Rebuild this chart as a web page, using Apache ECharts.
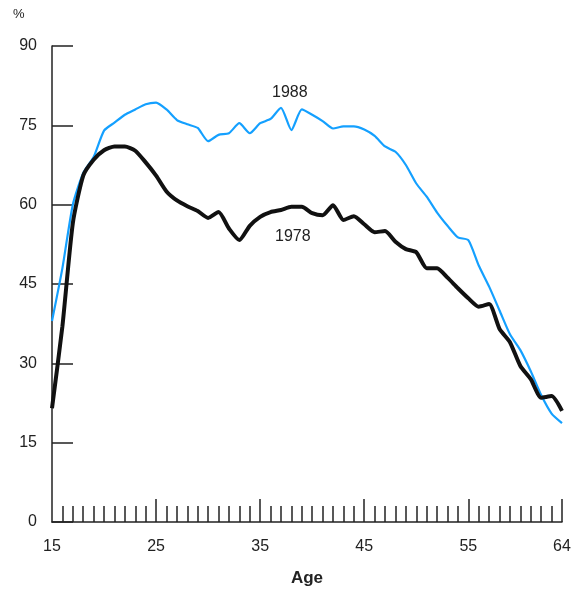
<!DOCTYPE html>
<html>
<head>
<meta charset="utf-8">
<script src="https://cdn.jsdelivr.net/npm/echarts@6/dist/echarts.min.js"></script>
<style>
  html, body { margin: 0; padding: 0; background: #fff; }
  #chart { width: 576px; height: 597px; }
</style>
</head>
<body>
<div id="chart"></div>
<script>
// Ages on the horizontal axis, one point per year
const ages = [];
for (let a = 15; a <= 64; a++) ages.push(String(a));

// Participation rate (%) by single year of age
const rate1988 = [
  38, 48, 60, 66, 69, 74, 75.5, 77, 78, 79,
  79.3, 78, 76, 75.2, 74.5, 72, 73.2, 73.5, 75.4, 73.5,
  75.4, 76.2, 78.3, 74.1, 78, 77, 75.8, 74.4, 74.8, 74.8,
  74.2, 73, 71, 70, 67.5, 64, 61.5, 58.5, 56, 53.8,
  53.3, 48.5, 44.5, 40, 35.5, 32.5, 28.5, 24, 20.5, 18.7
];
const rate1978 = [
  21.5, 37, 56.5, 65.5, 68.5, 70.3, 71, 71, 70.2, 68,
  65.5, 62.5, 60.8, 59.7, 58.8, 57.5, 58.6, 55.5, 53.3, 56,
  57.7, 58.6, 59, 59.6, 59.6, 58.4, 58, 59.9, 57.1, 57.8,
  56.3, 54.8, 55, 53, 51.6, 51, 48, 48, 46.2, 44.2,
  42.3, 40.7, 41.2, 36.5, 34, 29.5, 27, 23.5, 23.8, 21
];

// Labelled ages and ages with long tick marks
const labelledAges = ['15', '25', '35', '45', '55', '64'];
const longTickAges = ['25', '35', '45', '55', '64'];

const font = 'Liberation Sans, Arial, Helvetica, sans-serif';
const ink = '#222';

const chart = echarts.init(document.getElementById('chart'));
chart.setOption({
  animation: false,
  grid: { left: 52, right: 14, top: 46, bottom: 75 },
  xAxis: [
    {
      type: 'category',
      data: ages,
      boundaryGap: false,
      axisLine: { lineStyle: { color: ink, width: 1.5 } },
      axisTick: {
        inside: true, length: 16,
        lineStyle: { color: ink, width: 1.5 },
        interval: (i, v) => v !== '15'
      },
      axisLabel: {
        color: ink, fontFamily: font, fontSize: 16, margin: 17,
        interval: (i, v) => labelledAges.includes(v)
      },
      name: 'Age',
      nameLocation: 'middle',
      nameGap: 48,
      nameTextStyle: { color: ink, fontFamily: font, fontSize: 17, fontWeight: 'bold' },
      splitLine: { show: false }
    },
    {
      type: 'category',
      data: ages,
      boundaryGap: false,
      position: 'bottom',
      axisLine: { show: false },
      axisTick: {
        inside: true, length: 23,
        lineStyle: { color: ink, width: 1.5 },
        interval: (i, v) => longTickAges.includes(v)
      },
      axisLabel: { show: false },
      splitLine: { show: false }
    }
  ],
  yAxis: {
    type: 'value',
    min: 0, max: 90, interval: 15,
    axisLine: { show: true, lineStyle: { color: ink, width: 1.5 } },
    axisTick: { show: true, inside: true, length: 21, lineStyle: { color: ink, width: 1.5 } },
    axisLabel: { color: ink, fontFamily: font, fontSize: 16, margin: 15 },
    splitLine: { show: false }
  },
  series: [
    {
      name: '1988', type: 'line', data: rate1988, xAxisIndex: 0,
      symbol: 'none', smooth: 0.2,
      lineStyle: { color: '#14a0ff', width: 2.2 }
    },
    {
      name: '1978', type: 'line', data: rate1978, xAxisIndex: 0,
      symbol: 'none', smooth: 0.2,
      lineStyle: { color: '#111', width: 4 }
    }
  ],
  graphic: [
    { type: 'text', left: 13, top: 8,
      style: { text: '%', fill: ink, font: '13px ' + font } },
    { type: 'text', left: 272, top: 85,
      style: { text: '1988', fill: ink, font: '16px ' + font } },
    { type: 'text', left: 275, top: 229,
      style: { text: '1978', fill: ink, font: '16px ' + font } }
  ]
});
</script>
</body>
</html>
